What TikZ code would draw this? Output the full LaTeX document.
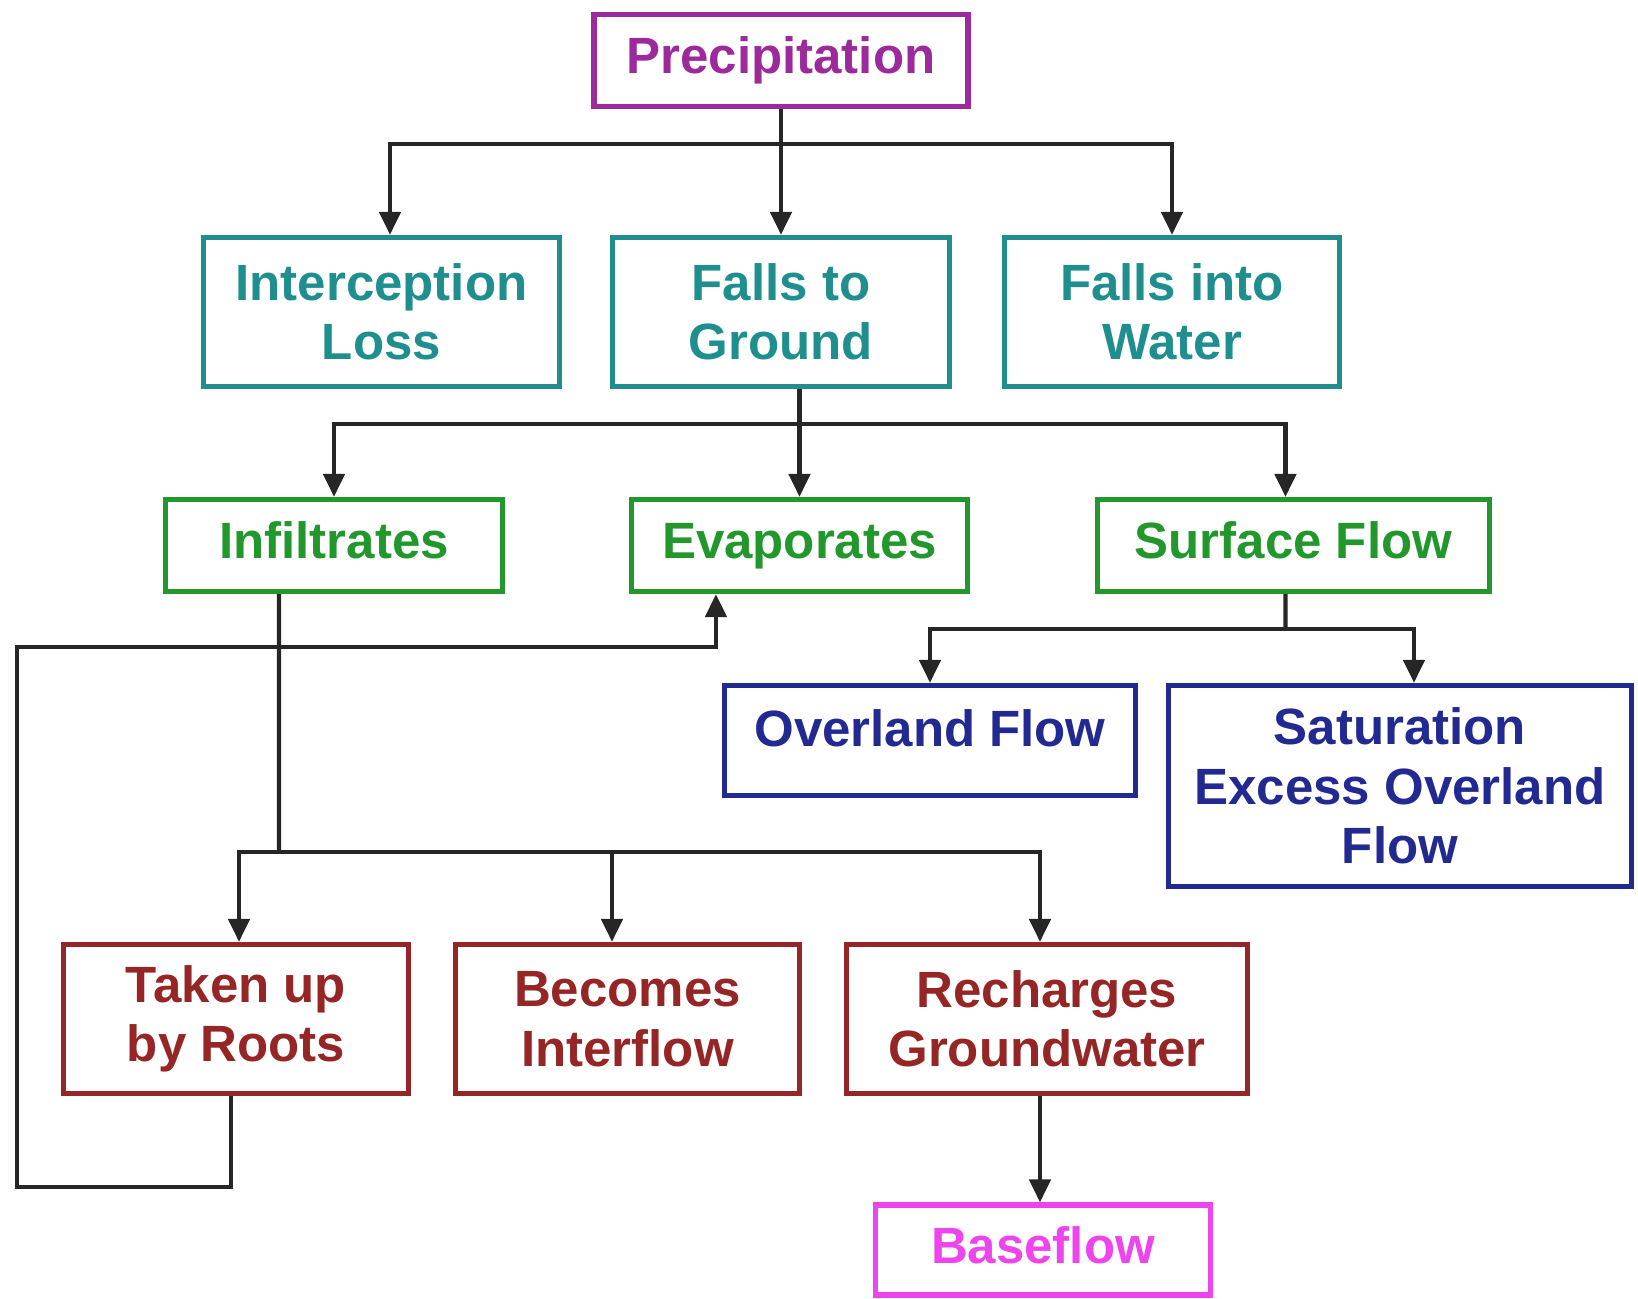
\documentclass[tikz,border=0pt]{standalone}
\usepackage{fontspec}
\setmainfont{Liberation Sans}
\usepackage{tikz}
\usetikzlibrary{arrows.meta}

\definecolor{precol}{HTML}{9C2A9C}
\definecolor{tealcol}{HTML}{1E8E8E}
\definecolor{greencol}{HTML}{22982C}
\definecolor{navycol}{HTML}{222A92}
\definecolor{redcol}{HTML}{962626}
\definecolor{basecol}{HTML}{EE44EE}

\tikzset{
  box/.style={draw=#1, text=#1, fill=white, line width=1.5pt, align=center, inner sep=0pt,
    font=\fontsize{14.5}{16.9}\selectfont\bfseries},
  single/.style={text height=10.6pt, text depth=3pt},
  link/.style={color=black!85, line width=1.2pt},
  arrow/.style={link, -{Triangle[length=6.5pt,width=6pt]}}
}

\begin{document}
\begin{tikzpicture}[x=0.01cm, y=-0.01cm]
    \useasboundingbox (0,0) rectangle (1638,1299);
    % boxes
    \node[box=precol, single, minimum width=3.74cm, minimum height=0.92cm] (prec) at (781,60.5) {Precipitation};
    \node[box=tealcol, minimum width=3.56cm, minimum height=1.49cm] (intercept) at (381.5,312) {Interception\\Loss};
    \node[box=tealcol, minimum width=3.37cm, minimum height=1.49cm] (ground) at (781,312) {Falls to\\Ground};
    \node[box=tealcol, minimum width=3.35cm, minimum height=1.49cm] (water) at (1172,312) {Falls into\\Water};
    \node[box=greencol, single, minimum width=3.37cm, minimum height=0.92cm] (infil) at (334,545.5) {Infiltrates};
    \node[box=greencol, single, minimum width=3.36cm, minimum height=0.92cm] (evap) at (799.5,545.5) {Evaporates};
    \node[box=greencol, single, minimum width=3.92cm, minimum height=0.92cm] (surface) at (1293.5,545.5) {Surface Flow};
    \node[box=navycol, single, minimum width=4.11cm, minimum height=1.10cm, text depth=7.3pt] (overland) at (930,740.5) {Overland Flow};
    \node[box=navycol, minimum width=4.63cm, minimum height=2.01cm] (saturation) at (1400,786) {Saturation\\Excess Overland\\Flow};
    \node[box=redcol, minimum width=3.45cm, minimum height=1.49cm] (roots) at (236,1019) {Taken up\\by Roots};
    \node[box=redcol, minimum width=3.44cm, minimum height=1.49cm] (interflow) at (627.5,1019) {Becomes\\Interflow};
    \node[box=redcol, minimum width=4.01cm, minimum height=1.49cm] (recharge) at (1047,1019) {Recharges\\Groundwater};
    \node[box=basecol, single, minimum width=3.35cm, minimum height=0.90cm] (baseflow) at (1043,1250) {Baseflow};

    % junctions
    \coordinate (jprec) at (781,144);
    \coordinate (jground) at (799.5,424);
    \coordinate (jsurf) at (1285.5,629);
    \coordinate (jinfil) at (279,852);
    \coordinate (loopbl) at (17,1187);
    \coordinate (looptl) at (17,647);

    % connectors
    \draw[arrow] (prec.south) -- (ground.north);
    \draw[arrow] (jprec) -| ([xshift=0.085cm]intercept.north);
    \draw[arrow] (jprec) -| (water.north);

    \draw[arrow] (ground.south -| evap.north) -- (evap.north);
    \draw[arrow] (jground) -| (infil.north);
    \draw[arrow] (jground) -| ([xshift=-0.08cm]surface.north);

    \draw[link] ([xshift=-0.08cm]surface.south) -- (jsurf);
    \draw[arrow] (jsurf) -| (overland.north);
    \draw[arrow] (jsurf) -| ([xshift=0.14cm]saturation.north);

    \draw[link] ([xshift=-0.55cm]infil.south) -- (jinfil);
    \draw[arrow] (jinfil) -| ([xshift=0.03cm]roots.north);
    \draw[arrow] (jinfil) -| ([xshift=-0.155cm]interflow.north);
    \draw[arrow] (jinfil) -| ([xshift=-0.07cm]recharge.north);

    \draw[arrow] ([xshift=-0.05cm]roots.south) |- (loopbl) -- (looptl) -| ([xshift=-0.835cm]evap.south);

    \draw[arrow] ([xshift=-0.07cm]recharge.south) -- ([xshift=-0.07cm]recharge.south |- baseflow.north);
\end{tikzpicture}
\end{document}
